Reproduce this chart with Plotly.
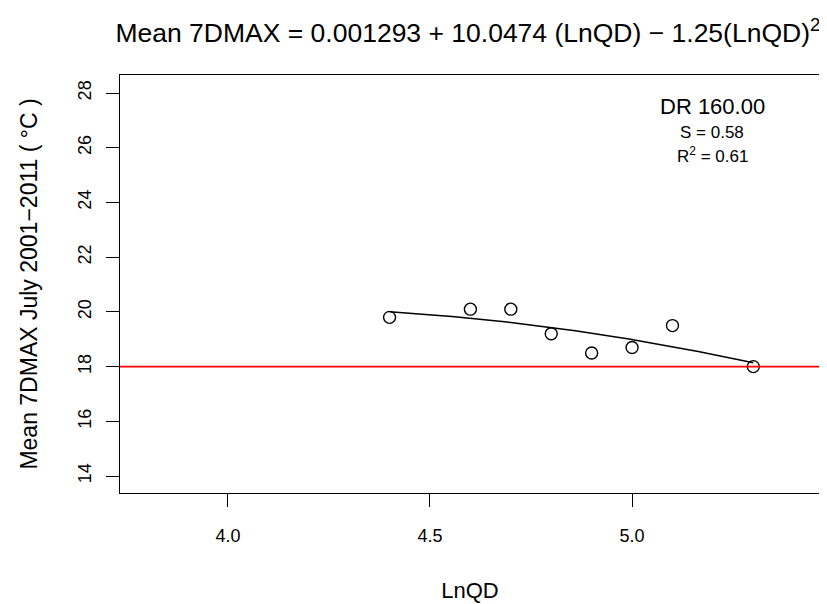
import numpy as np
import plotly.graph_objects as go

# Data
lnqd = [4.4, 4.6, 4.7, 4.8, 4.9, 5.0, 5.1, 5.3]
mean_7dmax = [19.8, 20.1, 20.1, 19.2, 18.5, 18.7, 19.5, 18.0]
# Fitted quadratic coefficients (from the title equation)
coef_b0, coef_b1, coef_b2 = 0.001293, 10.0474, -1.25
threshold = 18.0
x_ticks = [4.0, 4.5, 5.0]
x_tick_labels = ["4.0", "4.5", "5.0"]
y_ticks = [14, 16, 18, 20, 22, 24, 26, 28]

xf = np.linspace(min(lnqd), max(lnqd), 100)
yf = coef_b0 + coef_b1 * xf + coef_b2 * xf ** 2

font = "Liberation Sans, Arial, sans-serif"

fig = go.Figure()
fig.add_trace(go.Scatter(x=xf, y=yf, mode="lines",
                         line=dict(color="black", width=1.5), hoverinfo="skip"))
fig.add_trace(go.Scatter(x=lnqd, y=mean_7dmax, mode="markers",
                         marker=dict(symbol="circle-open", size=12,
                                     color="black", line=dict(width=1.4))))
fig.add_shape(type="line", xref="paper", x0=0, x1=1, yref="y", y0=threshold, y1=threshold,
              line=dict(color="red", width=1.6))

# page body has an 8px margin; figure is sized/offset to compensate
fig.update_layout(
    width=819, height=596,
    margin=dict(l=112, r=7, t=67, b=111),
    paper_bgcolor="white", plot_bgcolor="white",
    showlegend=False,
    font=dict(family=font, color="black"),
    title=dict(text="Mean 7DMAX = 0.001293 + 10.0474 (LnQD) − 1.25(LnQD)<sup>2</sup>",
               x=0.5615, xanchor="center", y=0.958, yanchor="middle",
               font=dict(size=26.5, family=font, color="black"), automargin=False),
    xaxis=dict(range=[3.733, 5.465], tickvals=x_ticks, ticktext=x_tick_labels,
               showgrid=False, zeroline=False, showline=True, linecolor="black",
               linewidth=1.3, mirror=True, ticks="outside", ticklen=13,
               tickcolor="black", tickwidth=1.3, ticklabelstandoff=13,
               tickfont=dict(size=18, family=font), automargin=False,
               title=dict(text="LnQD", font=dict(size=22, family=font), standoff=37)),
    yaxis=dict(range=[13.38, 28.66], tickvals=y_ticks,
               showgrid=False, zeroline=False, showline=True, linecolor="black",
               linewidth=1.3, mirror=True, ticks="outside", ticklen=13,
               tickcolor="black", tickwidth=1.3, tickangle=-90, ticklabelstandoff=8,
               tickfont=dict(size=18, family=font), automargin=False,
               title=dict(text="Mean 7DMAX July 2001−2011 ( °C )",
                          font=dict(size=23, family=font), standoff=30)),
)

anns = [
    dict(text="DR 160.00", y=106, size=22),
    dict(text="S = 0.58", y=133, size=17),
    dict(text="R<sup>2</sup> = 0.61", y=155, size=17),
]
for a in anns:
    fig.add_annotation(x=(712 - 120) / 700, y=1 - (a["y"] - 75) / 418,
                       xref="paper", yref="paper", text=a["text"], showarrow=False,
                       xanchor="center", yanchor="middle",
                       font=dict(size=a["size"], family=font, color="black"))

fig.write_html("out.html")
